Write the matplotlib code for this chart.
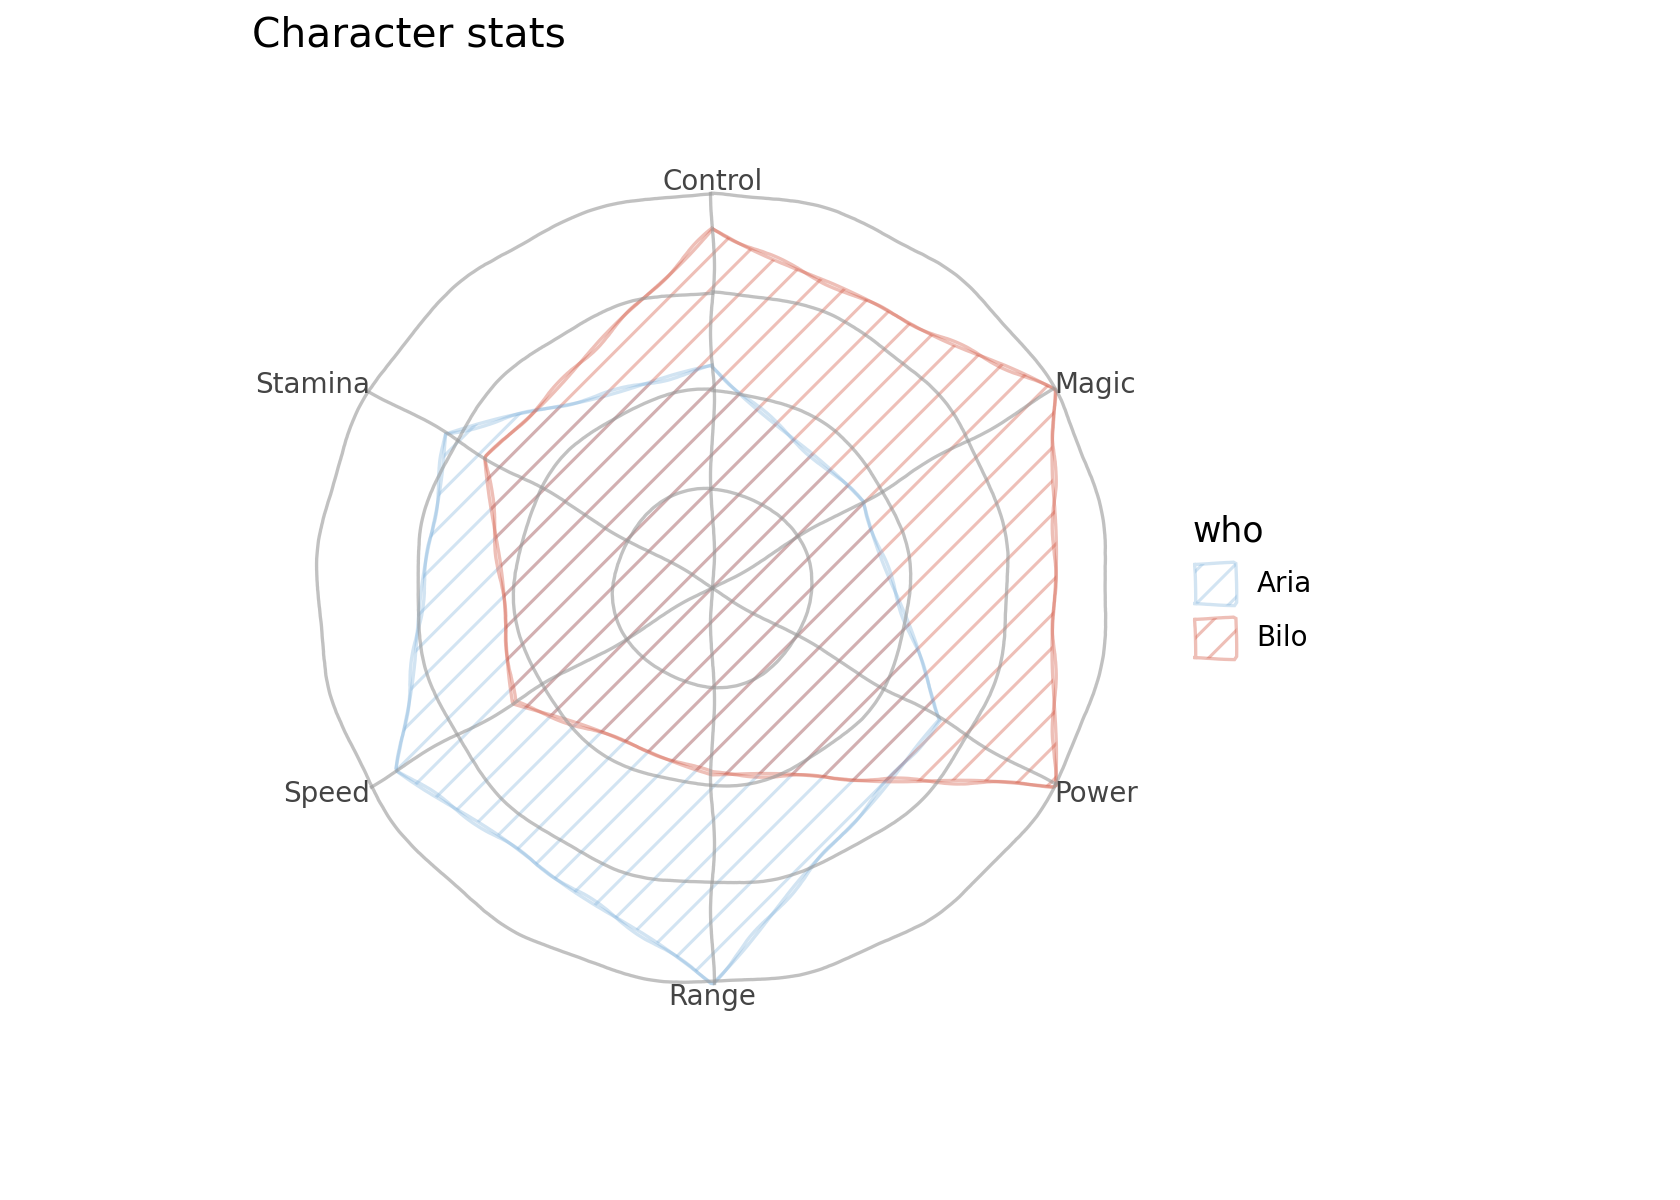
import numpy as np
import matplotlib
matplotlib.use("Agg")
import matplotlib.pyplot as plt

# data
stats = ["Control", "Magic", "Power", "Range", "Speed", "Stamina"]
aria = [56, 44, 67, 100, 92, 78]
bilo = [91, 100, 100, 47, 58, 66]
who = ["Aria", "Bilo"]
colores = ["#7fb2dc", "#d6604d"]
alfas = [0.35, 0.4]

plt.rcParams["path.sketch"] = (2.0, 170, 2.5)
plt.rcParams["hatch.linewidth"] = 1.1

fig = plt.figure(figsize=(8.4, 6), dpi=200)
eje = fig.add_axes([0.189, 0.181, 0.470, 0.658], projection="polar")
eje.set_theta_offset(np.pi / 2)
eje.set_theta_direction(-1)

angulos = np.linspace(0, 2 * np.pi, len(stats), endpoint=False)
cerrar = lambda v: list(v) + [v[0]]
ang_c = cerrar(angulos)

handles = []
for nombre, valores, color, alfa in zip(who, [aria, bilo], colores, alfas):
    rgba = matplotlib.colors.to_rgba(color, alfa)
    relleno = eje.fill(ang_c, cerrar(valores), facecolor="none", edgecolor=rgba,
                       hatch="//", linewidth=1.2, label=nombre, clip_on=False)
    relleno[0].set_sketch_params(2.2, 220, 2)
    linea = eje.plot(ang_c, cerrar(valores), color=color, alpha=alfa,
                     linewidth=1.2, clip_on=False)
    linea[0].set_sketch_params(2.0, 110, 2)
    handles.append(relleno[0])

eje.set_ylim(0, 100)
eje.set_yticks([25, 50, 75, 100])
eje.set_yticklabels([])
eje.set_xticks(angulos)
eje.set_xticklabels([])
eje.tick_params(axis="both", length=0)
eje.grid(True, color="#999999", alpha=0.6, linewidth=1.2)
for g in eje.xaxis.get_gridlines() + eje.yaxis.get_gridlines():
    g.set_clip_on(False)
eje.spines["polar"].set_visible(False)
eje.set_axisbelow(False)

# etiquetas de cada eje, alineadas hacia fuera
alineacion = {
    "Control": ("center", "baseline"),
    "Magic": ("left", "center"),
    "Power": ("left", "center"),
    "Range": ("center", "top"),
    "Speed": ("right", "center"),
    "Stamina": ("right", "center"),
}
for ang, nombre in zip(angulos, stats):
    ha, va = alineacion[nombre]
    dy = 0
    if nombre in ("Magic", "Stamina"):
        dy = 2
    elif nombre in ("Power", "Speed"):
        dy = -3
    elif nombre == "Control":
        dy = 1
    eje.annotate(nombre, xy=(ang, 100), xytext=(0, dy), textcoords="offset points",
                 ha=ha, va=va, fontsize=10, color="#444444", annotation_clip=False)

fig.text(0.15, 0.961, "Character stats", fontsize=14.7, color="black", va="baseline")

leyenda = fig.legend(handles, who, title="who", loc="center left",
                     bbox_to_anchor=(0.695, 0.512), frameon=False, fontsize=10,
                     title_fontsize=12.5, handlelength=1.5, handleheight=1.8,
                     labelspacing=0.55, handletextpad=0.8)
leyenda._legend_box.align = "left"

fig.savefig("out.png", dpi=200)
